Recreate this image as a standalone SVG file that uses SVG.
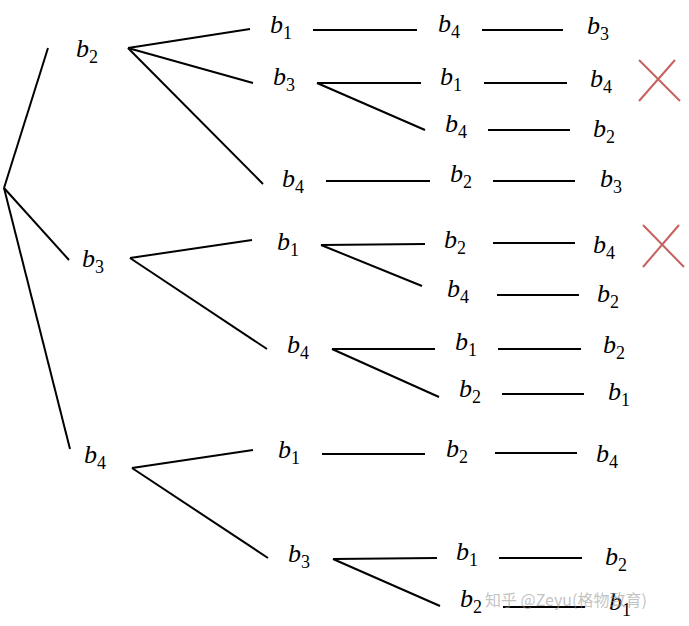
<svg xmlns="http://www.w3.org/2000/svg" width="689" height="626" viewBox="0 0 689 626">
<style>
.l{stroke:#000;stroke-width:2;fill:none;stroke-linecap:butt}
.x{stroke:#c8605f;stroke-width:2;fill:none}
.v{font-family:"Liberation Serif","Times New Roman",serif;font-style:italic;font-size:26px;fill:#000}
.s{font-style:normal;font-size:18px}
.w{font-family:"Noto Sans CJK SC","Liberation Sans",sans-serif;font-size:16px;fill:#999;fill-opacity:0.6}
</style>
<rect width="689" height="626" fill="#fff"/>
<g id="connectors">
<line class="l" x1="48" y1="48" x2="4" y2="188"/>
<line class="l" x1="4" y1="188" x2="69" y2="260"/>
<line class="l" x1="4" y1="188" x2="70" y2="449"/>
<line class="l" x1="128" y1="48" x2="250" y2="29"/>
<line class="l" x1="128" y1="48" x2="253" y2="83"/>
<line class="l" x1="128" y1="48" x2="263" y2="184"/>
<line class="l" x1="130" y1="258" x2="252" y2="240"/>
<line class="l" x1="130" y1="258" x2="267" y2="349"/>
<line class="l" x1="132" y1="468" x2="253" y2="450"/>
<line class="l" x1="132" y1="468" x2="268" y2="558"/>
<line class="l" x1="313" y1="30" x2="417" y2="30"/>
<line class="l" x1="317" y1="83" x2="421" y2="83"/>
<line class="l" x1="317" y1="83" x2="425" y2="130"/>
<line class="l" x1="326" y1="181" x2="430" y2="181"/>
<line class="l" x1="321" y1="245" x2="425" y2="244"/>
<line class="l" x1="321" y1="245" x2="422" y2="286"/>
<line class="l" x1="332" y1="349" x2="435" y2="349"/>
<line class="l" x1="332" y1="349" x2="439" y2="397"/>
<line class="l" x1="322" y1="454" x2="425" y2="454"/>
<line class="l" x1="333" y1="559" x2="437" y2="558"/>
<line class="l" x1="333" y1="559" x2="440" y2="606"/>
<line class="l" x1="482" y1="30" x2="563" y2="30"/>
<line class="l" x1="484" y1="83" x2="567" y2="83"/>
<line class="l" x1="488" y1="130" x2="570" y2="130"/>
<line class="l" x1="493" y1="181" x2="575" y2="181"/>
<line class="l" x1="493" y1="243" x2="575" y2="243"/>
<line class="l" x1="497" y1="295" x2="579" y2="295"/>
<line class="l" x1="498" y1="349" x2="581" y2="349"/>
<line class="l" x1="502" y1="394" x2="584" y2="394"/>
<line class="l" x1="495" y1="453" x2="577" y2="453"/>
<line class="l" x1="499" y1="558" x2="582" y2="558"/>
<line class="l" x1="503" y1="607" x2="585" y2="607"/>
</g>
<g id="n1"><text class="v" x="76" y="57">b<tspan class="s" dy="6">2</tspan></text></g>
<g id="n2"><text class="v" x="82" y="267">b<tspan class="s" dy="6">3</tspan></text></g>
<g id="n3"><text class="v" x="84" y="463">b<tspan class="s" dy="6">4</tspan></text></g>
<g id="n4"><text class="v" x="270" y="33">b<tspan class="s" dy="6">1</tspan></text></g>
<g id="n5"><text class="v" x="273" y="85">b<tspan class="s" dy="6">3</tspan></text></g>
<g id="n6"><text class="v" x="282" y="187">b<tspan class="s" dy="6">4</tspan></text></g>
<g id="n7"><text class="v" x="277" y="250">b<tspan class="s" dy="6">1</tspan></text></g>
<g id="n8"><text class="v" x="287" y="353">b<tspan class="s" dy="6">4</tspan></text></g>
<g id="n9"><text class="v" x="278" y="458">b<tspan class="s" dy="6">1</tspan></text></g>
<g id="n10"><text class="v" x="288" y="562">b<tspan class="s" dy="6">3</tspan></text></g>
<g id="n11"><text class="v" x="438" y="32">b<tspan class="s" dy="6">4</tspan></text></g>
<g id="n12"><text class="v" x="440" y="85">b<tspan class="s" dy="6">1</tspan></text></g>
<g id="n13"><text class="v" x="445" y="132">b<tspan class="s" dy="6">4</tspan></text></g>
<g id="n14"><text class="v" x="450" y="182">b<tspan class="s" dy="6">2</tspan></text></g>
<g id="n15"><text class="v" x="444" y="248">b<tspan class="s" dy="6">2</tspan></text></g>
<g id="n16"><text class="v" x="447" y="297">b<tspan class="s" dy="6">4</tspan></text></g>
<g id="n17"><text class="v" x="455" y="350">b<tspan class="s" dy="6">1</tspan></text></g>
<g id="n18"><text class="v" x="459" y="397">b<tspan class="s" dy="6">2</tspan></text></g>
<g id="n19"><text class="v" x="446" y="457">b<tspan class="s" dy="6">2</tspan></text></g>
<g id="n20"><text class="v" x="456" y="560">b<tspan class="s" dy="6">1</tspan></text></g>
<g id="n21"><text class="v" x="460" y="607">b<tspan class="s" dy="6">2</tspan></text></g>
<g id="n22"><text class="v" x="587" y="34">b<tspan class="s" dy="6">3</tspan></text></g>
<g id="n23"><text class="v" x="590" y="87">b<tspan class="s" dy="6">4</tspan></text></g>
<g id="n24"><text class="v" x="593" y="137">b<tspan class="s" dy="6">2</tspan></text></g>
<g id="n25"><text class="v" x="600" y="187">b<tspan class="s" dy="6">3</tspan></text></g>
<g id="n26"><text class="v" x="593" y="253">b<tspan class="s" dy="6">4</tspan></text></g>
<g id="n27"><text class="v" x="597" y="302">b<tspan class="s" dy="6">2</tspan></text></g>
<g id="n28"><text class="v" x="603" y="353">b<tspan class="s" dy="6">2</tspan></text></g>
<g id="n29"><text class="v" x="608" y="400">b<tspan class="s" dy="6">1</tspan></text></g>
<g id="n30"><text class="v" x="596" y="462">b<tspan class="s" dy="6">4</tspan></text></g>
<g id="n31"><text class="v" x="605" y="565">b<tspan class="s" dy="6">2</tspan></text></g>
<g id="n32"><text class="v" x="609" y="610">b<tspan class="s" dy="6">1</tspan></text></g>
<g id="cross1"><line class="x" x1="639" y1="60" x2="680" y2="101"/><line class="x" x1="675" y1="60" x2="639" y2="101"/></g>
<g id="cross2"><line class="x" x1="643" y1="225" x2="684" y2="267"/><line class="x" x1="679" y1="225" x2="643" y2="267"/></g>
<g id="watermark"><text class="w" x="485" y="606">知乎 @Zeyu(格物致育)</text></g>
</svg>
